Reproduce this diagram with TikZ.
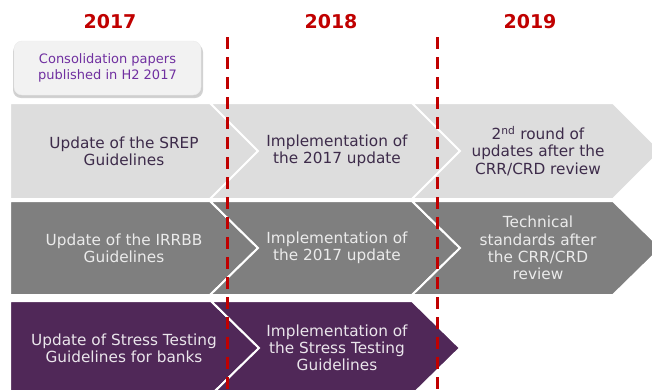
\documentclass[tikz,border=0pt]{standalone}
\usepackage{fontspec}
\setmainfont{DejaVu Sans}
\usepackage{xcolor}
\usepackage{tikz}
\usetikzlibrary{positioning,calc}

\definecolor{yearred}{HTML}{C00000}
\definecolor{lightrow}{HTML}{DDDDDD}
\definecolor{midrow}{HTML}{7F7F7F}
\definecolor{purplerow}{HTML}{502858}
\definecolor{darktext}{HTML}{3D2B4A}
\definecolor{notetext}{HTML}{7030A0}

% fill, left, notch depth, right, top, bottom
\newcommand{\chevron}[6]{%
  \filldraw[fill=#1, draw=white, line width=2pt, line join=miter]
    (#2,#5) -- (#4,#5) -- ({#4+48},{(#5+#6)/2}) -- (#4,#6) -- (#2,#6)
    -- ({#2+#3},{(#5+#6)/2}) -- cycle;}

\begin{document}
\begin{tikzpicture}[x=1pt,y=-1pt,
    year/.style={text=yearred, font=\fontsize{19}{22}\selectfont\bfseries},
    steptext/.style={align=center, font=\fontsize{15.3}{17.2}\selectfont},
    divider/.style={yearred, line width=3pt, dash pattern=on 12pt off 8pt}]
  \useasboundingbox (0,0) rectangle (652,389);
  \clip (0,0) rectangle (652,389);

  % years
  \node[year] (y2017) at (110,22) {2017};
  \node[year] (y2018) at (331,22) {2018};
  \node[year] (y2019) at (530,22) {2019};

  % note box
  \fill[black!35, opacity=0.5, rounded corners=8pt] (13,44) rectangle (203,98);
  \fill[black!20, opacity=0.5, rounded corners=8pt] (14,43) rectangle (202,97);
  \node[draw=black!8, fill=black!5, rounded corners=8pt, minimum width=187pt,
        minimum height=54pt, text=notetext, align=center,
        font=\fontsize{13}{15.5}\selectfont] (note) at (107.5,68)
        {Consolidation papers\\published in H2 2017};

  % row 1
  \chevron{lightrow}{10}{0}{210}{103}{199}
  \chevron{lightrow}{210}{48}{412}{103}{199}
  \chevron{lightrow}{412}{48}{613}{103}{199}
  % row 2
  \chevron{midrow}{10}{0}{210}{201}{295}
  \chevron{midrow}{210}{48}{412}{201}{295}
  \chevron{midrow}{412}{48}{613}{201}{295}
  % row 3
  \chevron{purplerow}{10}{0}{211}{301}{395}
  \chevron{purplerow}{211}{48}{412}{301}{395}

  \node[steptext, text=darktext] (srep) at (124,151) {Update of the SREP\\Guidelines};
  \node[steptext, text=darktext] (srepimpl) at (337,151) {Implementation of\\the 2017 update};
  \node[steptext, text=darktext] (srepnext) at (538,151) {2\textsuperscript{nd} round of\\updates after the\\CRR/CRD review};

  \node[steptext, text=white!92!black] (irrbb) at (124,248) {Update of the IRRBB\\Guidelines};
  \node[steptext, text=white!92!black] (irrbbimpl) at (337,248) {Implementation of\\the 2017 update};
  \node[steptext, text=white!92!black] (irrbbnext) at (538,248) {Technical\\standards after\\the CRR/CRD\\review};

  \node[steptext, text=white!88!purplerow] (stress) at (124,348) {Update of Stress Testing\\Guidelines for banks};
  \node[steptext, text=white!88!purplerow] (stressimpl) at (337,348) {Implementation of\\the Stress Testing\\Guidelines};

  % year dividers
  \draw[divider] (227,37) -- (227,389);
  \draw[divider] (437,37) -- (437,389);
\end{tikzpicture}
\end{document}
